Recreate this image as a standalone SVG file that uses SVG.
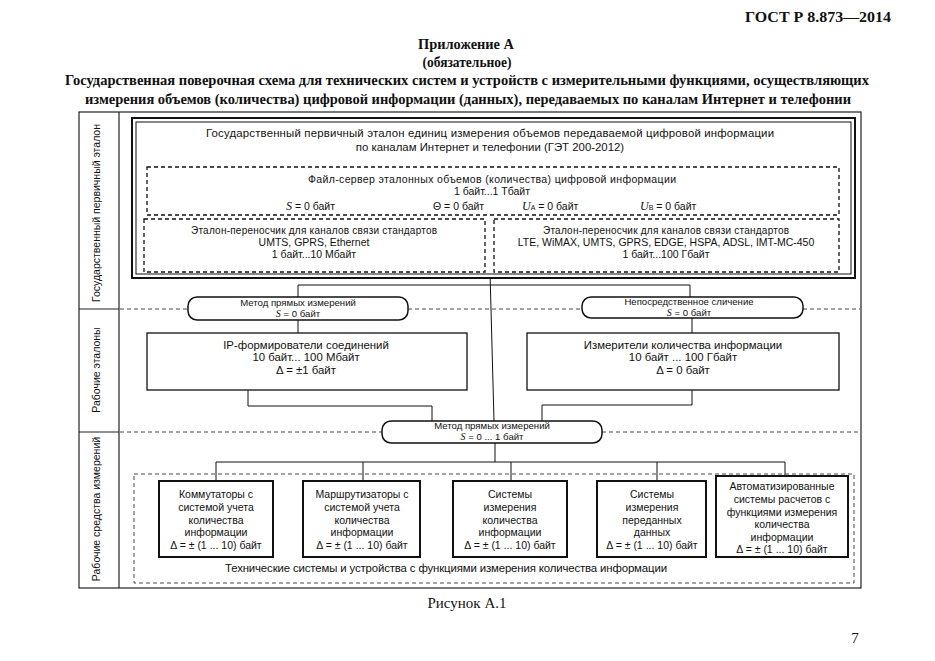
<svg xmlns="http://www.w3.org/2000/svg" width="935" height="661" viewBox="0 0 935 661">
<style>
.hd{font-family:"Liberation Serif","Times New Roman",serif;font-weight:bold;font-size:14px;fill:#111}
.cap{font-family:"Liberation Serif","Times New Roman",serif;font-size:15px;fill:#111}
.t{font-family:"Liberation Sans",Arial,sans-serif;fill:#111}
.s11{font-size:11.4px}
.s105{font-size:10.5px}
.s10{font-size:10px}
.s95{font-size:9.6px}
.box{fill:#fff;stroke:#111;stroke-width:1.3}
.bbox{fill:#fff;stroke:#111;stroke-width:2}
.dbox{fill:none;stroke:#111;stroke-width:1.3;stroke-dasharray:4 3}
.dsep{fill:none;stroke:#333;stroke-width:0.9;stroke-dasharray:4 3}
.rbox{fill:#fff;stroke:#111;stroke-width:1.5}
.ln{fill:none;stroke:#111;stroke-width:1}
.frame{fill:none;stroke:#222;stroke-width:1.2}
.it{font-family:"Liberation Serif","Times New Roman",serif;font-style:italic}
</style>
<rect width="935" height="661" fill="#fff"/>

<g id="header">
<text class="hd" x="891" y="22" text-anchor="end" textLength="146" lengthAdjust="spacingAndGlyphs">ГОСТ Р 8.873—2014</text>
<text class="hd" x="466" y="49" text-anchor="middle" textLength="96" lengthAdjust="spacingAndGlyphs">Приложение А</text>
<text class="hd" x="467" y="67" text-anchor="middle" textLength="89" lengthAdjust="spacingAndGlyphs">(обязательное)</text>
<text class="hd" x="467" y="85" text-anchor="middle" textLength="804" lengthAdjust="spacingAndGlyphs">Государственная поверочная схема для технических систем и устройств с измерительными функциями, осуществляющих</text>
<text class="hd" x="468" y="104" text-anchor="middle" textLength="766" lengthAdjust="spacingAndGlyphs">измерения объемов (количества) цифровой информации (данных), передаваемых по каналам Интернет и телефонии</text>
</g>

<g id="frame">
<rect class="frame" x="79" y="112" width="782" height="476"/>
<line class="frame" x1="119" y1="112" x2="119" y2="588"/>
<line class="frame" x1="79" y1="309" x2="119" y2="309"/>
<line class="frame" x1="79" y1="432" x2="119" y2="432"/>
<text class="t s105" transform="translate(100,213) rotate(-90)" text-anchor="middle">Государственный первичный эталон</text>
<text class="t s105" transform="translate(100,370) rotate(-90)" text-anchor="middle">Рабочие эталоны</text>
<text class="t s105" transform="translate(100,509) rotate(-90)" text-anchor="middle">Рабочие средства измерений</text>
</g>

<g id="connectors">
<line class="dsep" x1="120" y1="309" x2="188" y2="309"/>
<line class="dsep" x1="408" y1="309" x2="582" y2="309"/>
<line class="dsep" x1="803" y1="309" x2="860" y2="309"/>
<line class="dsep" x1="120" y1="432" x2="382" y2="432"/>
<line class="dsep" x1="602" y1="432" x2="860" y2="432"/>
<polyline class="ln" points="298,298 298,285 690,285 690,298"/>
<line class="ln" x1="490" y1="272" x2="494" y2="421"/>
<line class="ln" x1="298" y1="320" x2="298" y2="333"/>
<line class="ln" x1="692" y1="318" x2="692" y2="333"/>
<polyline class="ln" points="248,390 248,406 432,406 432,421"/>
<polyline class="ln" points="692,390 692,405 542,405 542,421"/>
<line class="ln" x1="495" y1="443" x2="495" y2="462"/>
<line class="ln" x1="216" y1="462" x2="785" y2="462"/>
<line class="ln" x1="216" y1="462" x2="216" y2="481"/>
<line class="ln" x1="363" y1="462" x2="363" y2="481"/>
<line class="ln" x1="511" y1="462" x2="511" y2="481"/>
<line class="ln" x1="657" y1="462" x2="657" y2="481"/>
<line class="ln" x1="785" y1="462" x2="785" y2="476"/>
</g>

<g id="get">
<rect fill="#fff" stroke="#111" stroke-width="2" x="132" y="118" width="723" height="160"/>
<rect fill="none" stroke="#111" stroke-width="1" x="136" y="122" width="715" height="152"/>
<text class="t s11" x="490" y="137" text-anchor="middle" textLength="568" lengthAdjust="spacing">Государственный первичный эталон единиц измерения объемов передаваемой цифровой информации</text>
<text class="t s11" x="490" y="151" text-anchor="middle">по каналам Интернет и телефонии (ГЭТ 200-2012)</text>
</g>

<g id="fileserver">
<rect class="dbox" x="147" y="167" width="692" height="48"/>
<text class="t s105" x="492" y="183" text-anchor="middle" textLength="368" lengthAdjust="spacing">Файл-сервер эталонных объемов (количества) цифровой информации</text>
<text class="t s105" x="492" y="195" text-anchor="middle">1 байт...1 Тбайт</text>
<text class="t s105" x="286" y="210"><tspan class="it" font-size="12">S</tspan> = 0 байт</text>
<text class="t s105" x="433" y="210">Θ = 0 байт</text>
<text class="t s105" x="522" y="210"><tspan class="it" font-size="12">U</tspan><tspan font-size="7">A</tspan> = 0 байт</text>
<text class="t s105" x="640" y="210"><tspan class="it" font-size="12">U</tspan><tspan font-size="7">B</tspan> = 0 байт</text>
</g>

<g id="carrier1">
<rect class="dbox" x="144" y="219" width="341" height="53"/>
<text class="t s10" x="314" y="234" text-anchor="middle" textLength="246" lengthAdjust="spacing">Эталон-переносчик для каналов связи стандартов</text>
<text class="t s105" x="314" y="246" text-anchor="middle">UMTS, GPRS, Ethernet</text>
<text class="t s105" x="314" y="258" text-anchor="middle">1 байт...10 Мбайт</text>
</g>

<g id="carrier2">
<rect class="dbox" x="494" y="219" width="345" height="53"/>
<text class="t s10" x="666" y="234" text-anchor="middle" textLength="246" lengthAdjust="spacing">Эталон-переносчик для каналов связи стандартов</text>
<text class="t s105" x="666" y="246" text-anchor="middle">LTE, WiMAX, UMTS, GPRS, EDGE, HSPA, ADSL, IMT-MC-450</text>
<text class="t s105" x="666" y="258" text-anchor="middle">1 байт...100 Гбайт</text>
</g>

<g id="method1">
<rect class="rbox" x="188" y="297" width="220" height="23" rx="9"/>
<text class="t s95" x="298" y="306" text-anchor="middle">Метод прямых измерений</text>
<text class="t s95" x="298" y="317" text-anchor="middle"><tspan class="it" font-size="10">S</tspan> = 0 байт</text>
</g>

<g id="compare">
<rect class="rbox" x="582" y="297" width="221" height="21" rx="9"/>
<text class="t s95" x="689" y="305" text-anchor="middle">Непосредственное сличение</text>
<text class="t s95" x="689" y="316" text-anchor="middle"><tspan class="it" font-size="10">S</tspan> = 0 байт</text>
</g>

<g id="ipform">
<rect class="box" x="147" y="333" width="320" height="57"/>
<text class="t s11" x="306" y="349" text-anchor="middle">IP-формирователи соединений</text>
<text class="t s11" x="306" y="361" text-anchor="middle">10 байт... 100 Мбайт</text>
<text class="t s11" x="306" y="374" text-anchor="middle">Δ  = ±1 байт</text>
</g>

<g id="meters">
<rect class="box" x="527" y="333" width="312" height="57"/>
<text class="t s11" x="683" y="349" text-anchor="middle">Измерители количества информации</text>
<text class="t s11" x="683" y="361" text-anchor="middle">10 байт ... 100 Гбайт</text>
<text class="t s11" x="683" y="374" text-anchor="middle">Δ  = 0 байт</text>
</g>

<g id="method2">
<rect class="rbox" x="382" y="421" width="220" height="22" rx="9"/>
<text class="t s95" x="492" y="429" text-anchor="middle">Метод прямых измерений</text>
<text class="t s95" x="492" y="440" text-anchor="middle"><tspan class="it" font-size="10">S</tspan> = 0 ... 1 байт</text>
</g>

<g id="techsystems">
<rect class="dsep" x="134" y="474" width="720" height="109"/>
<text class="t s11" x="446" y="572" text-anchor="middle" textLength="442" lengthAdjust="spacing">Технические системы и устройства с функциями измерения количества информации</text>
</g>

<g id="switches">
<rect class="bbox" x="159" y="481" width="114" height="76"/>
<text class="t s105" text-anchor="middle"><tspan x="216" y="498">Коммутаторы с</tspan><tspan x="216" y="511">системой учета</tspan><tspan x="216" y="524">количества</tspan><tspan x="216" y="536">информации</tspan><tspan x="216" y="549">Δ = ± (1 ... 10) байт</tspan></text>
</g>

<g id="routers">
<rect class="bbox" x="303" y="481" width="117" height="76"/>
<text class="t s105" text-anchor="middle"><tspan x="362" y="498">Маршрутизаторы с</tspan><tspan x="362" y="511">системой учета</tspan><tspan x="362" y="524">количества</tspan><tspan x="362" y="536">информации</tspan><tspan x="362" y="549">Δ = ± (1 ... 10) байт</tspan></text>
</g>

<g id="infosys">
<rect class="bbox" x="453" y="481" width="114" height="76"/>
<text class="t s105" text-anchor="middle"><tspan x="510" y="498">Системы</tspan><tspan x="510" y="511">измерения</tspan><tspan x="510" y="524">количества</tspan><tspan x="510" y="536">информации</tspan><tspan x="510" y="549">Δ = ± (1 ... 10) байт</tspan></text>
</g>

<g id="datasys">
<rect class="bbox" x="597" y="481" width="109" height="76"/>
<text class="t s105" text-anchor="middle"><tspan x="652" y="498">Системы</tspan><tspan x="652" y="511">измерения</tspan><tspan x="652" y="524">переданных</tspan><tspan x="652" y="536">данных</tspan><tspan x="652" y="549">Δ = ± (1 ... 10) байт</tspan></text>
</g>

<g id="billing">
<rect class="bbox" x="716" y="476" width="132" height="81"/>
<text class="t s105" text-anchor="middle"><tspan x="782" y="490">Автоматизированные</tspan><tspan x="782" y="503">системы расчетов с</tspan><tspan x="782" y="516">функциями измерения</tspan><tspan x="782" y="528">количества</tspan><tspan x="782" y="541">информации</tspan><tspan x="782" y="553">Δ = ± (1 ... 10) байт</tspan></text>
</g>

<g id="footer">
<text class="cap" x="467" y="608" text-anchor="middle">Рисунок А.1</text>
<text class="cap" x="855" y="643" text-anchor="middle">7</text>
</g>
</svg>
